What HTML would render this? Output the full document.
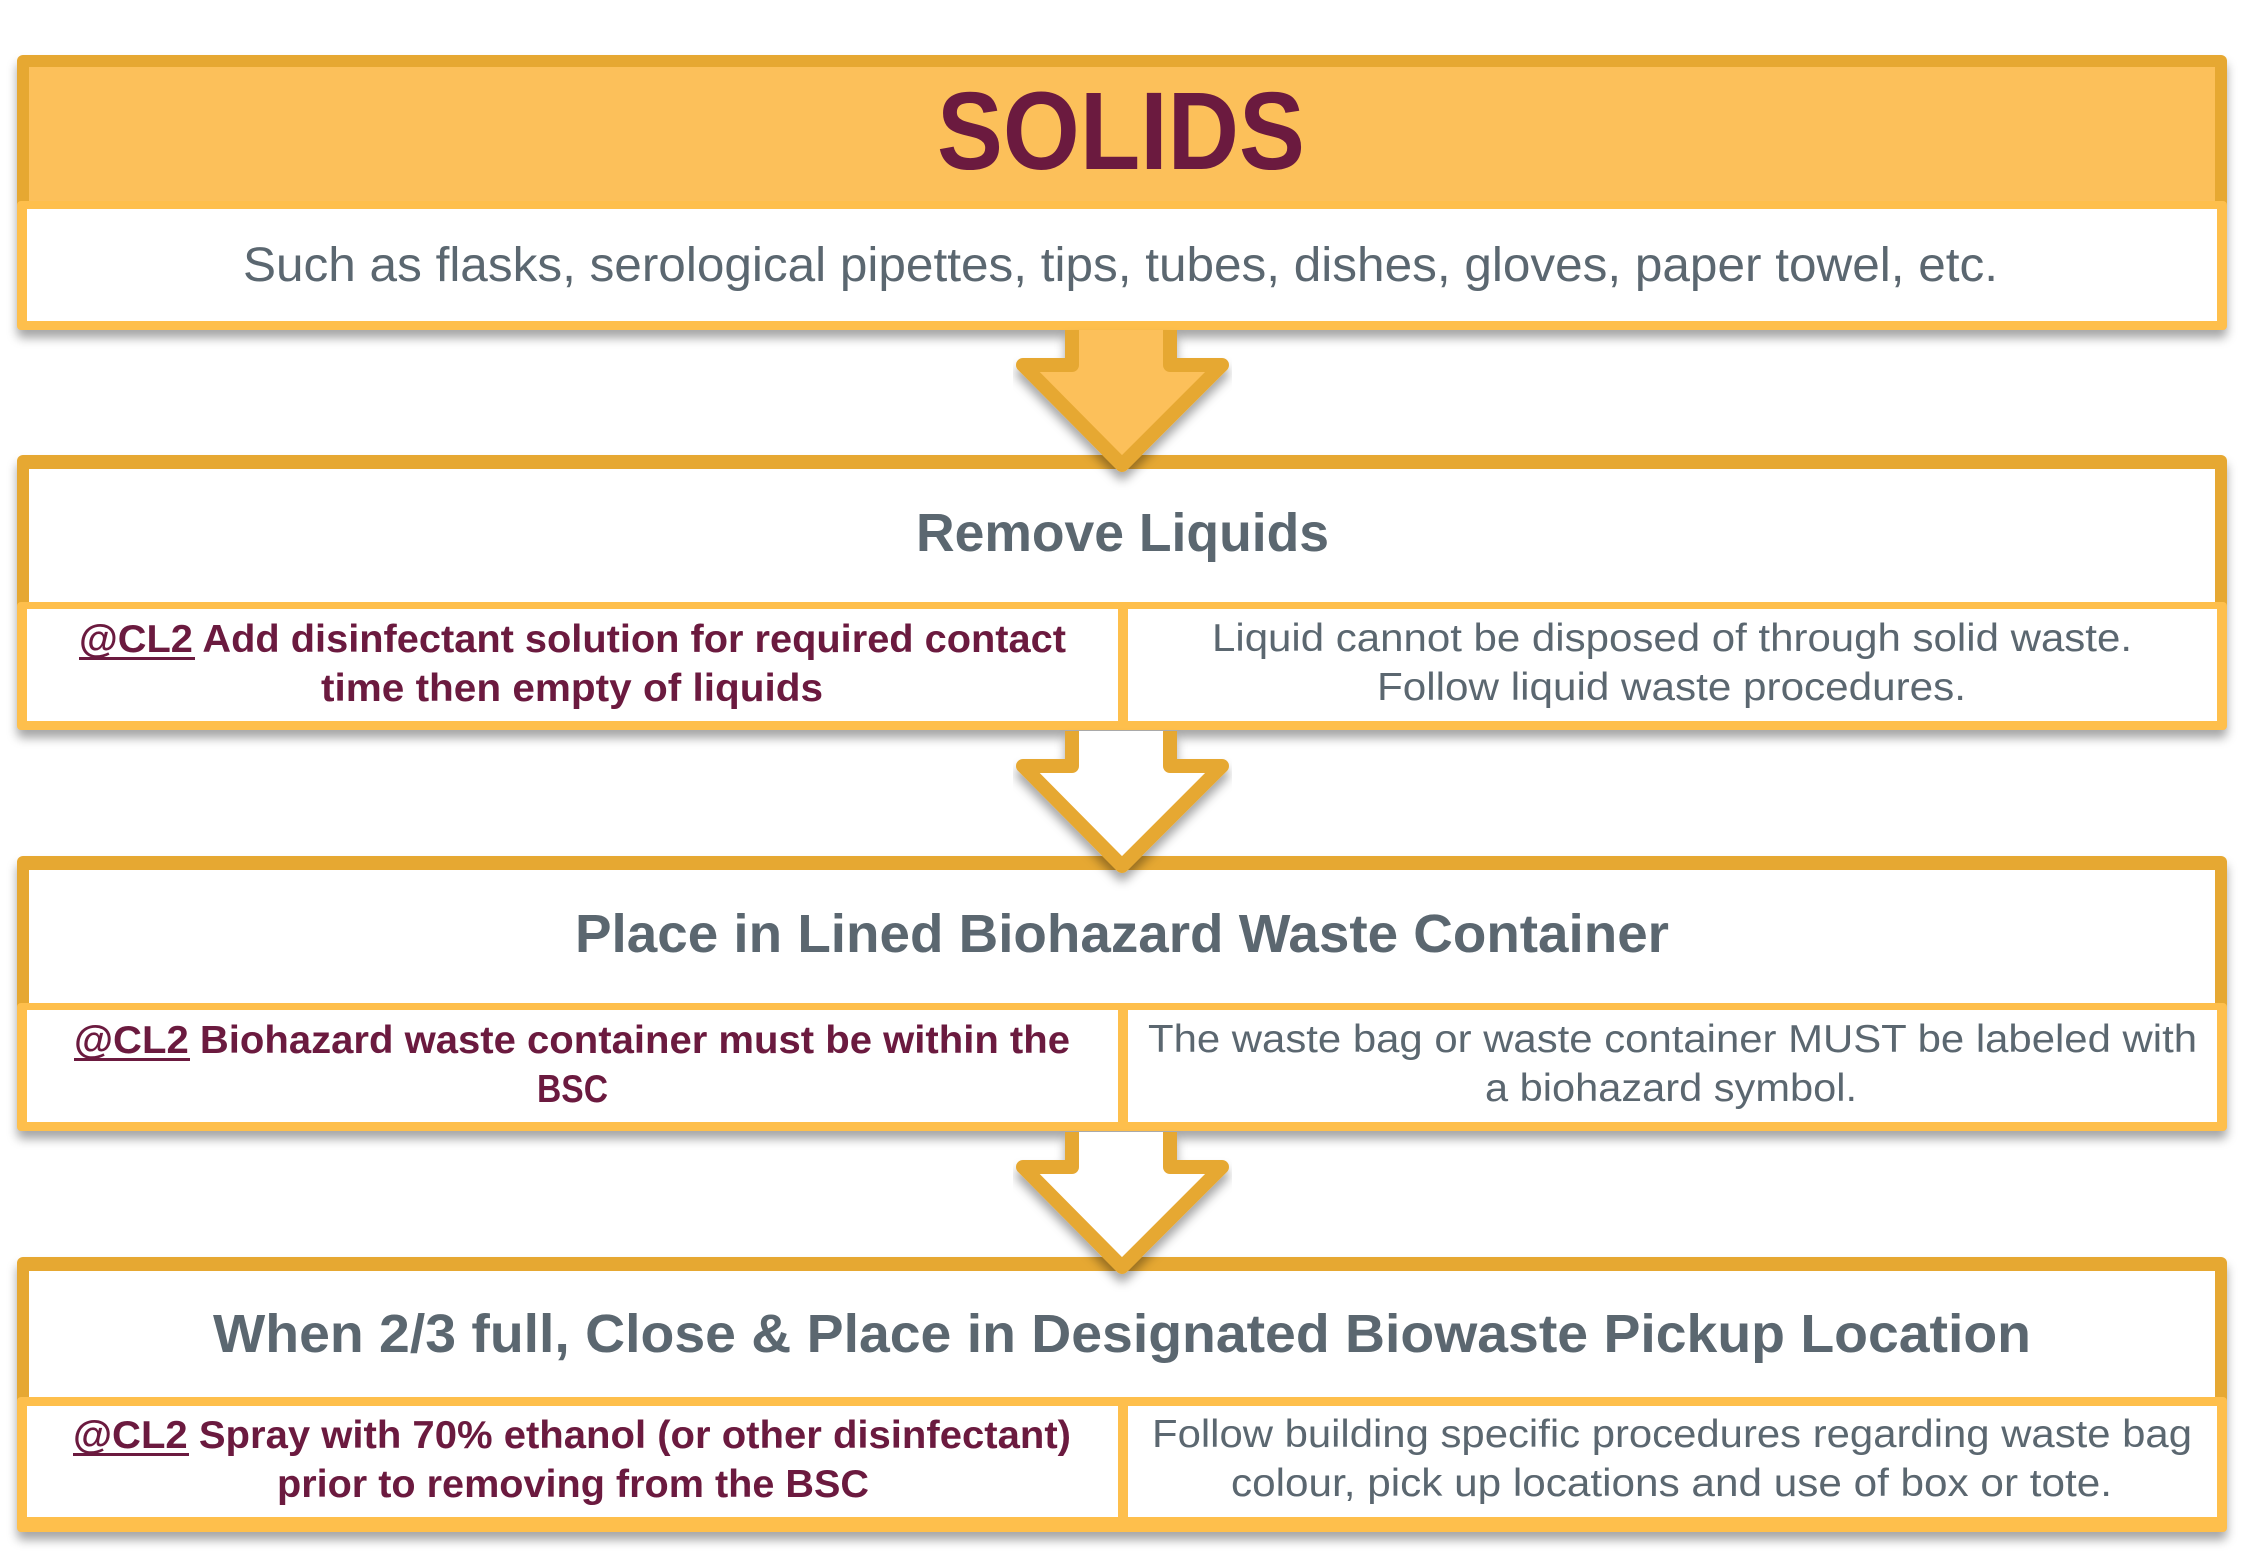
<!DOCTYPE html>
<html><head><meta charset="utf-8"><style>
html,body{margin:0;padding:0;background:#fff;}
svg{display:block;}
text{font-family:"Liberation Sans",sans-serif;}
.m{fill:#6B1A3F;font-weight:bold;}
.g{fill:#5B6770;}
.gb{fill:#5B6770;font-weight:bold;}
</style></head><body>
<svg width="2244" height="1556" viewBox="0 0 2244 1556" xmlns="http://www.w3.org/2000/svg">
<defs>
<filter id="sh" x="-5%" y="-10%" width="110%" height="130%">
<feDropShadow dx="0" dy="8" stdDeviation="5" flood-color="#000" flood-opacity="0.35"/>
</filter>
</defs>

<!-- Box 1 -->
<g filter="url(#sh)">
<rect x="17" y="55" width="2210" height="275" rx="6" fill="#E6A833"/>
</g>
<rect x="29" y="67" width="2186" height="134" fill="#FCC05A"/>
<rect x="17" y="201" width="2210" height="129" rx="4" fill="#FEBF4C"/>
<rect x="27" y="209" width="2190" height="112" fill="#fff"/>

<!-- Box 2 -->
<g filter="url(#sh)">
<rect x="17" y="455" width="2210" height="275" rx="6" fill="#E6A833"/>
</g>
<rect x="29" y="469" width="2186" height="133" fill="#fff"/>
<rect x="17" y="602" width="2210" height="128" rx="4" fill="#FEBF4C"/>
<rect x="27" y="609" width="1091" height="112" fill="#fff"/>
<rect x="1128" y="609" width="1089" height="112" fill="#fff"/>

<!-- Box 3 -->
<g filter="url(#sh)">
<rect x="17" y="856" width="2210" height="275" rx="6" fill="#E6A833"/>
</g>
<rect x="29" y="870" width="2186" height="133" fill="#fff"/>
<rect x="17" y="1003" width="2210" height="128" rx="4" fill="#FEBF4C"/>
<rect x="27" y="1010" width="1091" height="112" fill="#fff"/>
<rect x="1128" y="1010" width="1089" height="112" fill="#fff"/>

<!-- Box 4 -->
<g filter="url(#sh)">
<rect x="17" y="1257" width="2210" height="275" rx="6" fill="#E6A833"/>
</g>
<rect x="29" y="1271" width="2186" height="126" fill="#fff"/>
<rect x="17" y="1397" width="2210" height="135" rx="4" fill="#FEBF4C"/>
<rect x="27" y="1406" width="1091" height="111" fill="#fff"/>
<rect x="1128" y="1406" width="1089" height="111" fill="#fff"/>

<!-- Arrows -->
<g filter="url(#sh)">
<polygon points="1072,330 1170,330 1170,365 1222,365 1122,465 1023,365 1072,365" fill="#FCC05A"/>
<polyline points="1072,330 1072,365 1023,365 1122,465 1222,365 1170,365 1170,330" fill="none" stroke="#E6A833" stroke-width="14" stroke-linejoin="round"/>
<polygon points="1072,731 1170,731 1170,766 1222,766 1122,866 1023,766 1072,766" fill="#fff"/>
<polyline points="1072,731 1072,766 1023,766 1122,866 1222,766 1170,766 1170,731" fill="none" stroke="#E6A833" stroke-width="14" stroke-linejoin="round"/>
<polygon points="1072,1132 1170,1132 1170,1167 1222,1167 1122,1267 1023,1167 1072,1167" fill="#fff"/>
<polyline points="1072,1132 1072,1167 1023,1167 1122,1267 1222,1167 1170,1167 1170,1132" fill="none" stroke="#E6A833" stroke-width="14" stroke-linejoin="round"/>
</g>

<!-- Texts -->
<text class="m" x="937" y="169" font-size="110" textLength="368" lengthAdjust="spacingAndGlyphs">SOLIDS</text>
<text class="g" x="243" y="281" font-size="48" textLength="1755" lengthAdjust="spacingAndGlyphs">Such as flasks, serological pipettes, tips, tubes, dishes, gloves, paper towel, etc.</text>

<text class="gb" x="916" y="551" font-size="54" textLength="413" lengthAdjust="spacingAndGlyphs">Remove Liquids</text>
<text class="m" x="79" y="652" font-size="39" textLength="987" lengthAdjust="spacingAndGlyphs">@CL2 Add disinfectant solution for required contact</text>
<rect x="79" y="657" width="116" height="3" fill="#6B1A3F"/>
<text class="m" x="321" y="701" font-size="39" textLength="502" lengthAdjust="spacingAndGlyphs">time then empty of liquids</text>
<text class="g" x="1212" y="651" font-size="39" textLength="920" lengthAdjust="spacingAndGlyphs">Liquid cannot be disposed of through solid waste.</text>
<text class="g" x="1377" y="700" font-size="39" textLength="589" lengthAdjust="spacingAndGlyphs">Follow liquid waste procedures.</text>

<text class="gb" x="575" y="952" font-size="54" textLength="1094" lengthAdjust="spacingAndGlyphs">Place in Lined Biohazard Waste Container</text>
<text class="m" x="74" y="1053" font-size="39" textLength="996" lengthAdjust="spacingAndGlyphs">@CL2 Biohazard waste container must be within the</text>
<rect x="74" y="1058" width="116" height="3" fill="#6B1A3F"/>
<text class="m" x="537" y="1102" font-size="39" textLength="71" lengthAdjust="spacingAndGlyphs">BSC</text>
<text class="g" x="1148" y="1052" font-size="39" textLength="1049" lengthAdjust="spacingAndGlyphs">The waste bag or waste container MUST be labeled with</text>
<text class="g" x="1485" y="1101" font-size="39" textLength="372" lengthAdjust="spacingAndGlyphs">a biohazard symbol.</text>

<text class="gb" x="213" y="1352" font-size="54" textLength="1818" lengthAdjust="spacingAndGlyphs">When 2/3 full, Close &amp; Place in Designated Biowaste Pickup Location</text>
<text class="m" x="73" y="1448" font-size="39" textLength="998" lengthAdjust="spacingAndGlyphs">@CL2 Spray with 70% ethanol (or other disinfectant)</text>
<rect x="73" y="1453" width="116" height="3" fill="#6B1A3F"/>
<text class="m" x="277" y="1497" font-size="39" textLength="592" lengthAdjust="spacingAndGlyphs">prior to removing from the BSC</text>
<text class="g" x="1152" y="1447" font-size="39" textLength="1040" lengthAdjust="spacingAndGlyphs">Follow building specific procedures regarding waste bag</text>
<text class="g" x="1231" y="1496" font-size="39" textLength="881" lengthAdjust="spacingAndGlyphs">colour, pick up locations and use of box or tote.</text>
</svg>
</body></html>
